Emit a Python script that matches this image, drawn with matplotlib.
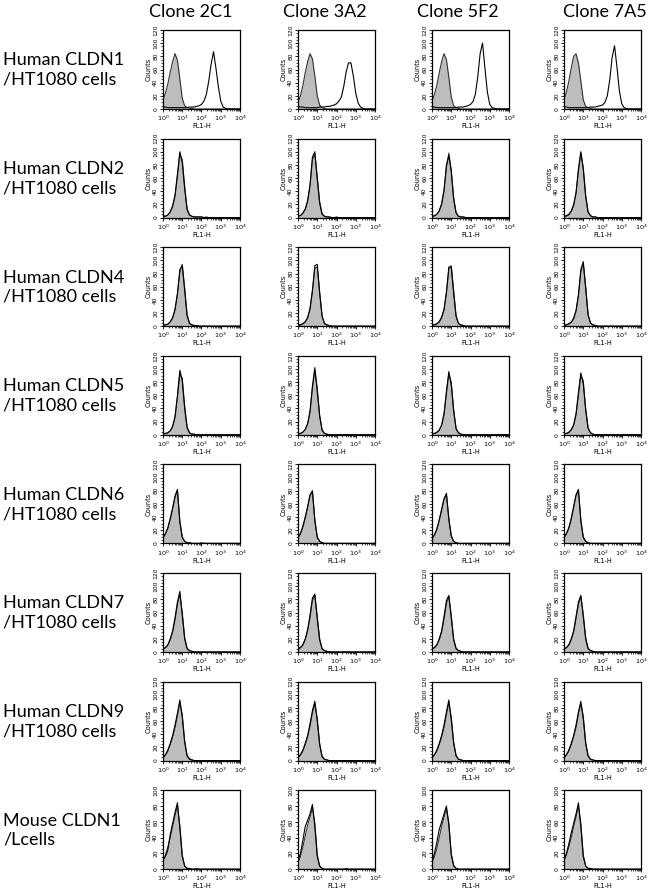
import numpy as np
import matplotlib
matplotlib.use("Agg")
import matplotlib.pyplot as plt
from matplotlib.ticker import LogLocator, MultipleLocator, NullFormatter
#-------------------------------------------------------------
# labels
#-------------------------------------------------------------
clones = ["Clone 2C1", "Clone 3A2", "Clone 5F2", "Clone 7A5"]
row_labels = ["Human CLDN1\n/HT1080 cells", "Human CLDN2\n/HT1080 cells",
              "Human CLDN4\n/HT1080 cells", "Human CLDN5\n/HT1080 cells",
              "Human CLDN6\n/HT1080 cells", "Human CLDN7\n/HT1080 cells",
              "Human CLDN9\n/HT1080 cells", "Mouse CLDN1\n/Lcells"]
y_max = [120, 120, 120, 120, 120, 120, 120, 100]
#-------------------------------------------------------------
# histogram counts, log10(FL1-H) = 0 .. 4 step 0.125
#-------------------------------------------------------------
log_fl1 = np.linspace(0, 4, 33)

cldn1_ctrl = [
    [14, 24, 38, 56, 72, 84, 74, 46, 16, 5, 2, 1, 1, 0, 0, 0, 0, 0, 0, 0, 0, 0, 0, 0, 0, 0, 0, 0, 0, 0, 0, 0, 0],
    [10, 20, 35, 55, 72, 84, 76, 50, 20, 6, 2, 1, 0, 0, 0, 0, 0, 0, 0, 0, 0, 0, 0, 0, 0, 0, 0, 0, 0, 0, 0, 0, 0],
    [12, 22, 36, 55, 72, 84, 75, 48, 18, 5, 2, 1, 0, 0, 0, 0, 0, 0, 0, 0, 0, 0, 0, 0, 0, 0, 0, 0, 0, 0, 0, 0, 0],
    [14, 26, 42, 62, 80, 84, 70, 42, 14, 4, 2, 1, 0, 0, 0, 0, 0, 0, 0, 0, 0, 0, 0, 0, 0, 0, 0, 0, 0, 0, 0, 0, 0]]
cldn1_ab = [
    [3, 3, 2, 2, 2, 2, 2, 2, 2, 2, 2, 3, 3, 3, 4, 5, 7, 12, 22, 42, 68, 87, 62, 34, 12, 3, 1, 0, 0, 0, 0, 0, 0],
    [4, 3, 3, 2, 2, 2, 2, 2, 2, 3, 3, 3, 4, 4, 5, 6, 8, 12, 18, 34, 56, 70, 70, 50, 24, 9, 3, 1, 0, 0, 0, 0, 0],
    [3, 3, 2, 2, 2, 2, 2, 2, 2, 2, 2, 3, 3, 3, 4, 5, 7, 11, 22, 48, 84, 100, 62, 26, 7, 2, 1, 0, 0, 0, 0, 0, 0],
    [3, 3, 2, 2, 2, 2, 2, 2, 2, 2, 2, 3, 3, 3, 4, 5, 6, 10, 20, 44, 78, 96, 64, 28, 8, 2, 1, 0, 0, 0, 0, 0, 0]]

cldn2_ctrl = [
    [2, 2, 4, 8, 16, 32, 62, 96, 88, 48, 14, 4, 2, 1, 1, 1, 1, 0, 1, 0, 0, 0, 0, 0, 0, 0, 0, 0, 0, 0, 0, 0, 0],
    [2, 3, 6, 12, 24, 48, 88, 96, 62, 24, 6, 2, 1, 1, 0, 0, 1, 0, 0, 0, 0, 0, 0, 0, 0, 0, 0, 0, 0, 0, 0, 0, 0],
    [2, 2, 5, 10, 20, 40, 76, 98, 72, 30, 8, 2, 1, 1, 0, 0, 0, 0, 0, 0, 0, 0, 0, 0, 0, 0, 0, 0, 0, 0, 0, 0, 0],
    [2, 2, 4, 9, 18, 36, 70, 98, 76, 34, 9, 3, 1, 1, 0, 0, 0, 0, 0, 0, 0, 0, 0, 0, 0, 0, 0, 0, 0, 0, 0, 0, 0]]
cldn2_ab = [
    [3, 2, 4, 9, 18, 34, 66, 100, 84, 44, 12, 4, 2, 1, 1, 1, 1, 0, 0, 0, 0, 0, 0, 0, 0, 0, 0, 0, 0, 0, 0, 0, 0],
    [2, 3, 7, 13, 26, 50, 92, 100, 58, 22, 5, 2, 1, 1, 0, 0, 0, 0, 0, 0, 0, 0, 0, 0, 0, 0, 0, 0, 0, 0, 0, 0, 0],
    [2, 3, 5, 10, 21, 42, 80, 94, 70, 28, 7, 2, 1, 1, 0, 0, 0, 0, 0, 0, 0, 0, 0, 0, 0, 0, 0, 0, 0, 0, 0, 0, 0],
    [2, 3, 5, 10, 20, 38, 74, 100, 74, 32, 8, 3, 1, 1, 0, 0, 0, 0, 0, 0, 0, 0, 0, 0, 0, 0, 0, 0, 0, 0, 0, 0, 0]]

cldn4_ctrl = [
    [1, 2, 3, 6, 12, 24, 48, 82, 94, 58, 18, 5, 2, 1, 1, 0, 0, 0, 0, 0, 0, 0, 0, 0, 0, 0, 0, 0, 0, 0, 0, 0, 0],
    [1, 2, 3, 6, 12, 26, 52, 88, 90, 52, 16, 4, 2, 1, 0, 0, 0, 0, 0, 0, 0, 0, 0, 0, 0, 0, 0, 0, 0, 0, 0, 0, 0],
    [1, 2, 3, 6, 12, 24, 50, 86, 92, 54, 16, 4, 2, 1, 0, 0, 0, 0, 0, 0, 0, 0, 0, 0, 0, 0, 0, 0, 0, 0, 0, 0, 0],
    [1, 2, 3, 6, 11, 22, 46, 82, 96, 60, 18, 5, 2, 1, 0, 0, 0, 0, 0, 0, 0, 0, 0, 0, 0, 0, 0, 0, 0, 0, 0, 0, 0]]
cldn4_ab = [
    [2, 2, 3, 7, 13, 26, 50, 86, 92, 55, 16, 4, 2, 1, 1, 0, 0, 0, 0, 0, 0, 0, 0, 0, 0, 0, 0, 0, 0, 0, 0, 0, 0],
    [2, 2, 4, 7, 13, 27, 55, 92, 94, 50, 15, 4, 2, 1, 0, 0, 0, 0, 0, 0, 0, 0, 0, 0, 0, 0, 0, 0, 0, 0, 0, 0, 0],
    [2, 2, 4, 7, 14, 26, 52, 90, 90, 50, 15, 4, 2, 1, 0, 0, 0, 0, 0, 0, 0, 0, 0, 0, 0, 0, 0, 0, 0, 0, 0, 0, 0],
    [2, 2, 4, 6, 12, 24, 48, 86, 98, 58, 17, 5, 2, 1, 0, 0, 0, 0, 0, 0, 0, 0, 0, 0, 0, 0, 0, 0, 0, 0, 0, 0, 0]]

cldn5_ctrl = [
    [1, 2, 3, 6, 12, 26, 56, 92, 86, 44, 12, 3, 1, 1, 0, 0, 0, 0, 0, 0, 0, 0, 0, 0, 0, 0, 0, 0, 0, 0, 0, 0, 0],
    [1, 2, 4, 8, 16, 34, 70, 98, 70, 30, 8, 2, 1, 0, 0, 0, 0, 0, 0, 0, 0, 0, 0, 0, 0, 0, 0, 0, 0, 0, 0, 0, 0],
    [1, 2, 3, 7, 14, 30, 62, 92, 80, 38, 10, 3, 1, 0, 0, 0, 0, 0, 0, 0, 0, 0, 0, 0, 0, 0, 0, 0, 0, 0, 0, 0, 0],
    [1, 2, 3, 7, 14, 30, 60, 90, 82, 40, 11, 3, 1, 0, 0, 0, 0, 0, 0, 0, 0, 0, 0, 0, 0, 0, 0, 0, 0, 0, 0, 0, 0]]
cldn5_ab = [
    [2, 2, 3, 6, 13, 28, 60, 98, 82, 40, 11, 3, 1, 1, 0, 0, 0, 0, 0, 0, 0, 0, 0, 0, 0, 0, 0, 0, 0, 0, 0, 0, 0],
    [2, 2, 4, 8, 17, 36, 74, 102, 66, 28, 7, 2, 1, 0, 0, 0, 0, 0, 0, 0, 0, 0, 0, 0, 0, 0, 0, 0, 0, 0, 0, 0, 0],
    [2, 2, 4, 7, 15, 32, 66, 96, 76, 36, 9, 3, 1, 0, 0, 0, 0, 0, 0, 0, 0, 0, 0, 0, 0, 0, 0, 0, 0, 0, 0, 0, 0],
    [2, 2, 4, 8, 15, 32, 64, 94, 78, 38, 10, 3, 1, 0, 0, 0, 0, 0, 0, 0, 0, 0, 0, 0, 0, 0, 0, 0, 0, 0, 0, 0, 0]]

cldn6_ctrl = [
    [8, 14, 22, 36, 52, 70, 80, 34, 10, 3, 1, 1, 0, 0, 0, 0, 1, 0, 0, 0, 0, 0, 0, 0, 0, 0, 0, 0, 0, 0, 0, 0, 0],
    [8, 14, 24, 38, 54, 72, 78, 36, 10, 3, 1, 0, 0, 0, 0, 0, 0, 0, 0, 0, 0, 0, 0, 0, 0, 0, 0, 0, 0, 0, 0, 0, 0],
    [7, 12, 20, 34, 50, 66, 74, 38, 12, 3, 1, 0, 0, 0, 0, 0, 0, 0, 0, 0, 0, 0, 0, 0, 0, 0, 0, 0, 0, 0, 0, 0, 0],
    [8, 14, 22, 36, 54, 72, 80, 36, 10, 3, 1, 0, 0, 0, 0, 0, 0, 0, 0, 0, 0, 0, 0, 0, 0, 0, 0, 0, 0, 0, 0, 0, 0]]
cldn6_ab = [
    [9, 15, 24, 38, 54, 72, 82, 32, 9, 3, 1, 1, 0, 0, 0, 0, 0, 0, 0, 0, 0, 0, 0, 0, 0, 0, 0, 0, 0, 0, 0, 0, 0],
    [9, 15, 26, 40, 56, 74, 80, 34, 9, 3, 1, 0, 0, 0, 0, 0, 0, 0, 0, 0, 0, 0, 0, 0, 0, 0, 0, 0, 0, 0, 0, 0, 0],
    [8, 13, 22, 36, 52, 68, 76, 36, 11, 3, 1, 0, 0, 0, 0, 0, 0, 0, 0, 0, 0, 0, 0, 0, 0, 0, 0, 0, 0, 0, 0, 0, 0],
    [9, 15, 24, 38, 56, 74, 82, 34, 9, 3, 1, 0, 0, 0, 0, 0, 0, 0, 0, 0, 0, 0, 0, 0, 0, 0, 0, 0, 0, 0, 0, 0, 0]]

cldn7_ctrl = [
    [4, 6, 10, 18, 30, 48, 72, 88, 60, 22, 6, 2, 1, 0, 0, 0, 0, 0, 0, 0, 0, 0, 0, 0, 0, 0, 0, 0, 0, 0, 0, 0, 0],
    [4, 6, 10, 18, 32, 52, 78, 86, 54, 20, 5, 2, 1, 0, 0, 0, 0, 0, 0, 0, 0, 0, 0, 0, 0, 0, 0, 0, 0, 0, 0, 0, 0],
    [4, 6, 10, 18, 30, 50, 74, 84, 56, 20, 6, 2, 1, 0, 0, 0, 0, 0, 0, 0, 0, 0, 0, 0, 0, 0, 0, 0, 0, 0, 0, 0, 0],
    [4, 6, 10, 18, 30, 50, 72, 84, 58, 22, 6, 2, 1, 0, 0, 0, 0, 0, 0, 0, 0, 0, 0, 0, 0, 0, 0, 0, 0, 0, 0, 0, 0]]
cldn7_ab = [
    [5, 7, 11, 20, 32, 52, 76, 92, 56, 20, 5, 2, 1, 0, 0, 0, 0, 0, 0, 0, 0, 0, 0, 0, 0, 0, 0, 0, 0, 0, 0, 0, 0],
    [5, 7, 11, 20, 34, 56, 82, 88, 50, 18, 5, 2, 1, 0, 0, 0, 0, 0, 0, 0, 0, 0, 0, 0, 0, 0, 0, 0, 0, 0, 0, 0, 0],
    [5, 7, 11, 20, 32, 54, 78, 86, 52, 18, 5, 2, 1, 0, 0, 0, 0, 0, 0, 0, 0, 0, 0, 0, 0, 0, 0, 0, 0, 0, 0, 0, 0],
    [5, 7, 11, 20, 32, 54, 76, 86, 54, 20, 5, 2, 1, 0, 0, 0, 0, 0, 0, 0, 0, 0, 0, 0, 0, 0, 0, 0, 0, 0, 0, 0, 0]]

cldn9_ctrl = [
    [4, 8, 14, 24, 36, 50, 68, 88, 70, 30, 8, 3, 1, 0, 0, 0, 0, 0, 0, 0, 0, 0, 0, 0, 0, 0, 0, 0, 0, 0, 0, 0, 0],
    [4, 8, 14, 24, 36, 52, 72, 86, 64, 26, 7, 2, 1, 0, 0, 0, 0, 0, 0, 0, 0, 0, 0, 0, 0, 0, 0, 0, 0, 0, 0, 0, 0],
    [4, 8, 14, 24, 36, 50, 70, 88, 66, 28, 8, 2, 1, 0, 0, 0, 0, 0, 0, 0, 0, 0, 0, 0, 0, 0, 0, 0, 0, 0, 0, 0, 0],
    [4, 8, 14, 24, 36, 50, 70, 86, 68, 28, 8, 2, 1, 0, 0, 0, 0, 0, 0, 0, 0, 0, 0, 0, 0, 0, 0, 0, 0, 0, 0, 0, 0]]
cldn9_ab = [
    [5, 9, 16, 26, 38, 54, 72, 92, 66, 28, 7, 2, 1, 0, 0, 0, 0, 0, 0, 0, 0, 0, 0, 0, 0, 0, 0, 0, 0, 0, 0, 0, 0],
    [5, 9, 16, 26, 38, 56, 76, 90, 60, 24, 6, 2, 1, 0, 0, 0, 0, 0, 0, 0, 0, 0, 0, 0, 0, 0, 0, 0, 0, 0, 0, 0, 0],
    [5, 9, 16, 26, 38, 54, 74, 92, 62, 26, 7, 2, 1, 0, 0, 0, 0, 0, 0, 0, 0, 0, 0, 0, 0, 0, 0, 0, 0, 0, 0, 0, 0],
    [5, 9, 16, 26, 38, 54, 74, 90, 64, 26, 7, 2, 1, 0, 0, 0, 0, 0, 0, 0, 0, 0, 0, 0, 0, 0, 0, 0, 0, 0, 0, 0, 0]]

mouse_ctrl = [
    [10, 18, 28, 40, 54, 68, 80, 55, 18, 4, 1, 1, 0, 0, 1, 0, 0, 0, 0, 0, 0, 0, 0, 0, 0, 0, 0, 0, 0, 0, 0, 0, 0],
    [8, 16, 28, 42, 56, 66, 78, 58, 18, 4, 1, 0, 0, 0, 0, 0, 0, 0, 0, 0, 1, 0, 0, 0, 0, 0, 0, 0, 0, 0, 0, 0, 0],
    [8, 16, 26, 40, 54, 66, 76, 58, 20, 5, 1, 0, 0, 0, 0, 0, 0, 0, 0, 0, 0, 0, 0, 0, 0, 0, 0, 0, 0, 0, 0, 0, 0],
    [10, 18, 28, 40, 54, 66, 80, 58, 18, 4, 1, 1, 0, 0, 0, 0, 0, 0, 0, 0, 0, 0, 0, 0, 0, 0, 0, 0, 0, 0, 0, 0, 0]]
mouse_ab = [
    [12, 16, 24, 44, 58, 72, 84, 52, 16, 4, 1, 1, 0, 0, 0, 0, 0, 0, 0, 0, 0, 0, 0, 0, 0, 0, 0, 0, 0, 0, 0, 0, 0],
    [10, 20, 36, 54, 62, 70, 82, 54, 16, 4, 1, 0, 0, 0, 0, 0, 0, 0, 0, 0, 0, 0, 0, 0, 0, 0, 0, 0, 0, 0, 0, 0, 0],
    [10, 20, 34, 50, 60, 70, 80, 56, 18, 4, 1, 0, 0, 0, 0, 0, 0, 0, 0, 0, 0, 0, 0, 0, 0, 0, 0, 0, 0, 0, 0, 0, 0],
    [12, 20, 32, 46, 58, 70, 84, 54, 16, 4, 1, 1, 0, 0, 0, 0, 0, 0, 0, 0, 0, 0, 0, 0, 0, 0, 0, 0, 0, 0, 0, 0, 0]]

ctrl_rows = [cldn1_ctrl, cldn2_ctrl, cldn4_ctrl, cldn5_ctrl, cldn6_ctrl, cldn7_ctrl, cldn9_ctrl, mouse_ctrl]
ab_rows = [cldn1_ab, cldn2_ab, cldn4_ab, cldn5_ab, cldn6_ab, cldn7_ab, cldn9_ab, mouse_ab]
#-------------------------------------------------------------
# figure
#-------------------------------------------------------------
W, H = 650, 891
fig = plt.figure(figsize=(W / 100, H / 100), dpi=100)
label_font = ["Lato", "DejaVu Sans"]
col_left = [163, 298, 432, 564]
title_x = [191, 325, 458, 605]
fl1 = 10 ** log_fl1

for c in range(4):
    fig.text(title_x[c] / W, 1 - 12 / H, clones[c], ha="center", va="center",
             fontsize=13, family=label_font)

for r in range(8):
    top = 30 + 108.6 * r
    fig.text(3 / W, 1 - (top + 40) / H, row_labels[r], ha="left", va="center",
             fontsize=13, family=label_font, linespacing=1.25)
    for c in range(4):
        ax = fig.add_axes([col_left[c] / W, 1 - (top + 79) / H, 77 / W, 79 / H])
        ctrl = np.array(ctrl_rows[r][c])
        ab = np.array(ab_rows[r][c])
        ax.fill_between(fl1, ctrl, color="#bdbdbd", lw=0)
        ax.plot(fl1, ctrl, color="#333333", lw=0.8)
        ax.plot(fl1, ab, color="black", lw=0.8)
        ax.set_xscale("log")
        ax.set_xlim(1, 1e4)
        ax.set_ylim(0, y_max[r])
        ax.xaxis.set_major_locator(LogLocator(base=10, numticks=5))
        ax.xaxis.set_minor_locator(LogLocator(base=10, subs=np.arange(2, 10), numticks=10))
        ax.xaxis.set_minor_formatter(NullFormatter())
        ax.yaxis.set_major_locator(MultipleLocator(20))
        ax.yaxis.set_minor_locator(MultipleLocator(5))
        ax.tick_params(which="major", direction="out", length=2.5, width=0.6, pad=1, labelsize=4.6)
        ax.tick_params(which="minor", direction="out", length=1.3, width=0.5)
        ax.tick_params(axis="y", labelrotation=90, labelsize=4.3)
        for lab in ax.get_yticklabels():
            lab.set_va("center")
        ax.set_xlabel("FL1-H", fontsize=4.8, labelpad=0)
        ax.set_ylabel("Counts", fontsize=4.8, labelpad=1)
        for s in ax.spines.values():
            s.set_linewidth(0.9)

fig.savefig("out.png", dpi=100)
